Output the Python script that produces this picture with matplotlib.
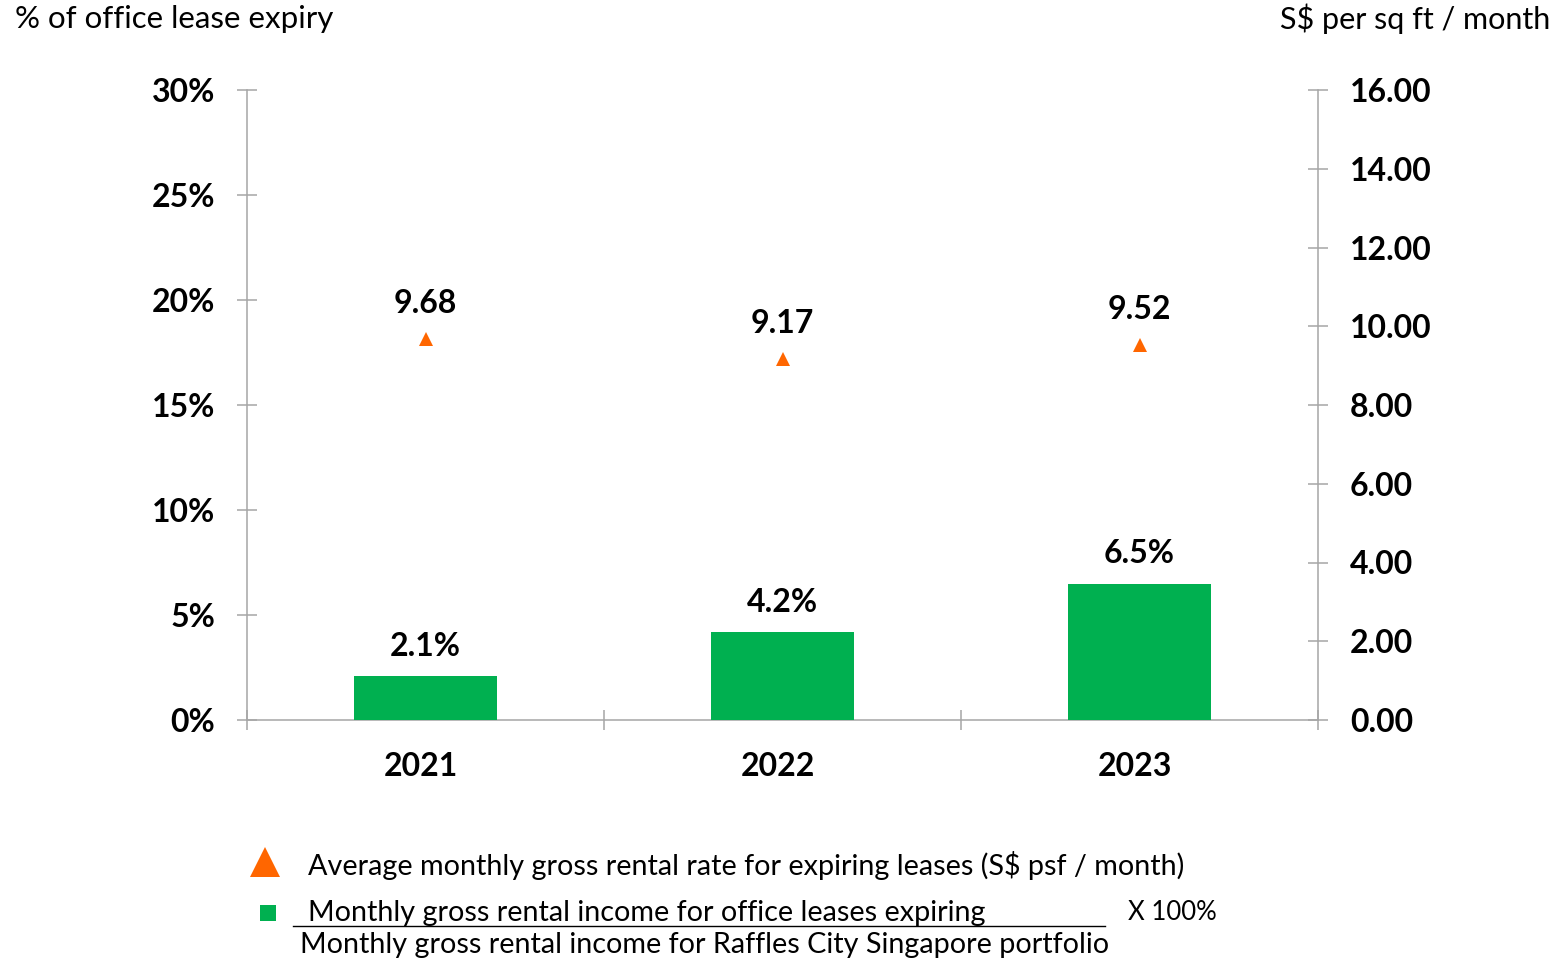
import matplotlib
matplotlib.use("Agg")
import matplotlib.pyplot as plt
import matplotlib.transforms as mtransforms
from matplotlib.lines import Line2D

plt.rcParams['font.family'] = ['Lato', 'DejaVu Sans']

years = ["2021", "2022", "2023"]
expiry_pct = [2.1, 4.2, 6.5]
rental_rate = [9.68, 9.17, 9.52]
left_ticks = [0, 5, 10, 15, 20, 25, 30]
right_ticks = [0, 2, 4, 6, 8, 10, 12, 14, 16]

left_title = "% of office lease expiry"
right_title = "S$ per sq ft / month"
legend_rate = "Average monthly gross rental rate for expiring leases (S$ psf / month)"
legend_num = "Monthly gross rental income for office leases expiring"
legend_den = "Monthly gross rental income for Raffles City Singapore portfolio"
legend_mult = "X 100%"

GREEN = "#00B050"
ORANGE = "#FF6600"
GRAY = "#A6A6A6"
BFS = 23  # bold label size
LFS = 20.7  # legend size

W, H = 1555, 960
fig = plt.figure(figsize=(W / 100, H / 100), dpi=100)
ax = fig.add_axes([247 / W, 1 - 720 / H, (1318 - 247) / W, (720 - 90) / H])
ax2 = ax.twinx()

x = [i + 0.5 for i in range(len(years))]
ax.bar(x, expiry_pct, width=0.4, color=GREEN, zorder=3)
for xi, v in zip(x, expiry_pct):
    ax.annotate(f"{v:.1f}%", (xi, v), xytext=(0, 11), textcoords="offset points",
                ha="center", va="bottom", fontsize=BFS, fontweight="bold", color="black")

ax2.plot(x, rental_rate, linestyle="none", marker="^", markersize=10,
         color=ORANGE, markeredgewidth=0, zorder=4)
for xi, v in zip(x, rental_rate):
    ax2.annotate(f"{v:.2f}", (xi, v), xytext=(0, 15), textcoords="offset points",
                 ha="center", va="bottom", fontsize=BFS, fontweight="bold", color="black")

ax.set_xlim(0, 3)
ax.set_ylim(0, 30)
ax2.set_ylim(0, 16)

ax.set_yticks(left_ticks)
ax.set_yticklabels([f"{t}%" for t in left_ticks])
ax2.set_yticks(right_ticks)
ax2.set_yticklabels([f"{t:.2f}" for t in right_ticks])

ax.set_xticks([0, 1, 2, 3])
ax.set_xticklabels([])
ax.set_xticks(x, minor=True)
ax.set_xticklabels(years, minor=True)

for a in (ax, ax2):
    a.patch.set_visible(False)
    a.spines['top'].set_visible(False)
    for s in ('left', 'right', 'bottom'):
        a.spines[s].set_color(GRAY)
        a.spines[s].set_linewidth(1.1)

ax.spines['right'].set_visible(False)
ax2.spines['left'].set_visible(False)
ax2.spines['bottom'].set_visible(False)

ax.tick_params(axis='y', direction='inout', length=14, width=1.1, color=GRAY,
               pad=16, labelsize=BFS)
ax2.tick_params(axis='y', direction='inout', length=14, width=1.1, color=GRAY,
                pad=16, labelsize=BFS)
ax.tick_params(axis='x', which='major', direction='inout', length=14, width=1.1, color=GRAY)
ax.tick_params(axis='x', which='minor', length=0, pad=23, labelsize=BFS)
shift = mtransforms.ScaledTranslation(-5 / 100, 0, fig.dpi_scale_trans)
for lbl in ax.get_xticklabels(minor=True):
    lbl.set_fontweight('bold')
    lbl.set_transform(lbl.get_transform() + shift)
for lbl in ax.get_yticklabels() + ax2.get_yticklabels():
    lbl.set_fontweight('bold')

# Axis titles
fig.text(15 / W, 1 - 19 / H, left_title, ha="left", va="center", fontsize=22.5)
fig.text(1550 / W, 1 - 19 / H, right_title, ha="right", va="center", fontsize=22)

# Custom legend
fig.add_artist(Line2D([265 / W], [1 - 862 / H], marker="^", markersize=22,
                      color=ORANGE, markeredgewidth=0, linestyle="none",
                      transform=fig.transFigure))
fig.add_artist(Line2D([268 / W], [1 - 913 / H], marker="s", markersize=12,
                      color=GREEN, markeredgewidth=0, linestyle="none",
                      transform=fig.transFigure))
fig.text(308 / W, 1 - 865 / H, legend_rate, ha="left", va="center", fontsize=LFS)
fig.text(308 / W, 1 - 913 / H, legend_num, ha="left", va="center", fontsize=LFS)
fig.add_artist(Line2D([293 / W, 1105 / W], [1 - 926 / H, 1 - 926 / H], color="black",
                      linewidth=1.0, transform=fig.transFigure))
fig.text(1128 / W, 1 - 913 / H, legend_mult, ha="left", va="center", fontsize=18.5)
fig.text(300 / W, 1 - 945 / H, legend_den, ha="left", va="center", fontsize=LFS)

fig.savefig("out.png", dpi=100)
